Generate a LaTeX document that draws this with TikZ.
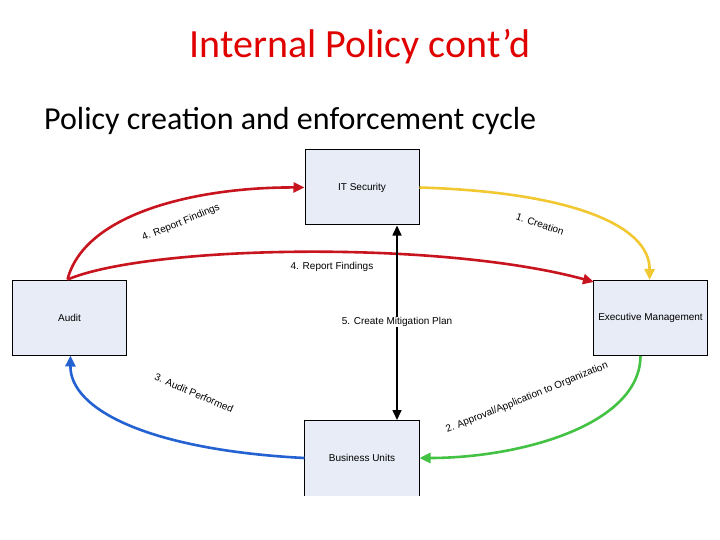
\documentclass[tikz,border=0pt]{standalone}
\usepackage{fontspec}
\setmainfont{Carlito}
\newfontfamily\diagfont{Liberation Sans}
\usetikzlibrary{arrows.meta}
\definecolor{boxfill}{HTML}{E8ECF6}
\definecolor{cred}{HTML}{C8141E}
\definecolor{cyellow}{HTML}{F2C832}
\definecolor{cgreen}{HTML}{44C244}
\definecolor{cblue}{HTML}{2462D2}
\definecolor{ctitle}{HTML}{E00000}
\tikzset{
  unit/.style={draw=black, line width=1pt, fill=boxfill, minimum width=114pt, minimum height=75pt, inner sep=0pt, font=\diagfont\fontsize{10}{12}\selectfont},
  lbl/.style={font=\diagfont\fontsize{10}{12}\selectfont, inner sep=0pt},
  flow/.style={line width=2.6pt, -{Triangle[length=11pt,width=10pt]}},
  mitig/.style={line width=1.6pt, {Triangle[length=10pt,width=9pt]}-{Triangle[length=10pt,width=9pt]}}
}
\begin{document}
\begin{tikzpicture}[x=1pt,y=-1pt]
\useasboundingbox (0,0) rectangle (720,540);
\fill[white] (0,0) rectangle (720,540);
\node[font=\fontsize{40}{44}\selectfont, text=ctitle] (title) at (360,47) {Internal Policy cont’d};
\node[font=\fontsize{32}{36}\selectfont, anchor=west, inner sep=0pt] (sub) at (44,121) {Policy creation and enforcement cycle};

\node[unit] (its) at (362,187.5) {IT Security};
\node[unit] (aud) at (69.5,317.5) {Audit};
\node[unit] (exe) at (650.5,318) {Executive Management};
\node[unit, draw=none] (bus) at (362,458) {Business Units};
\draw[line width=1pt] (bus.south west) -- (bus.north west) -- (bus.north east) -- (bus.south east);

\coordinate (audtop) at ([xshift=-2pt]aud.north);
\coordinate (audbot) at ([xshift=1pt]aud.south);
\coordinate (exetop) at ([xshift=-1pt]exe.north);
\coordinate (exetl) at ([xshift=1pt,yshift=-2pt]exe.north west);
\coordinate (exebot) at ([xshift=-10pt]exe.south);
\coordinate (itstop) at ([xshift=35pt]its.south);
\coordinate (busmid) at ([xshift=35pt]bus.north);

\draw[flow, draw=cred, -{Triangle[length=11pt,width=10pt,fill=cred]}] (audtop) .. controls (85,212) and (200,187) .. (its.west);
\draw[flow, draw=cred] (audtop) .. controls (150,245) and (440,240) .. (exetl);
\draw[flow, draw=cyellow] (its.east) .. controls (570,192) and (650,225) .. (exetop);
\draw[flow, draw=cgreen] (exebot) .. controls (640,425) and (520,458) .. (bus.east);
\draw[flow, draw=cblue] (bus.west) .. controls (150,450) and (70,410) .. (audbot);
\draw[mitig] (its.south -| itstop) -- (bus.north -| busmid);

\node[lbl, rotate=22] (l4a) at (181,223) {4. Report Findings};
\node[lbl] (l4b) at (332,267) {4. Report Findings};
\node[lbl, rotate=-19] (l1) at (540,224) {1. Creation};
\node[lbl, fill=white, inner sep=0.5pt] (l5) at (397,322) {5. Create Mitigation Plan};
\node[lbl, rotate=-23] (l3) at (194,393) {3. Audit Performed};
\node[lbl, rotate=22] (l2) at (527,398) {2. Approval/Application to Organization};
\end{tikzpicture}
\end{document}
